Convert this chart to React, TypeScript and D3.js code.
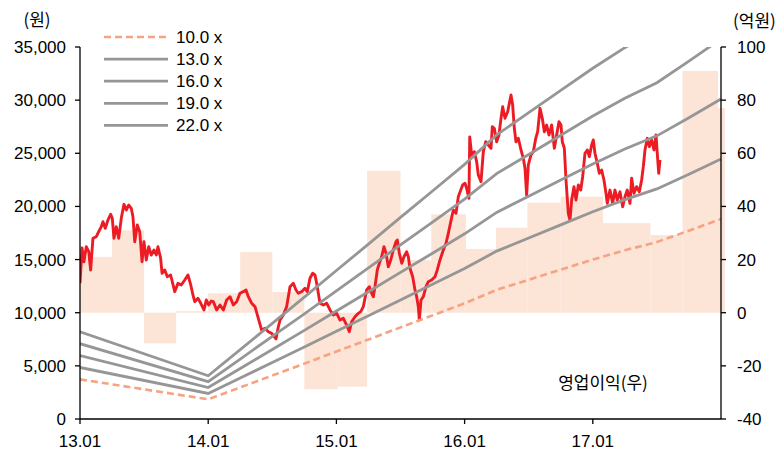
import React from "react";
import * as d3 from "d3";

// ---------- data ----------
const leftTicks = [0, 5000, 10000, 15000, 20000, 25000, 30000, 35000];
const rightTicks = [-40, -20, 0, 20, 40, 60, 80, 100];
const xTickYears = [2013, 2014, 2015, 2016, 2017];
const xTickLabels = ["13.01", "14.01", "15.01", "16.01", "17.01"];

// operating profit bars (억원): period start (decimal year) and value
const barStarts = [2013.0, 2013.25, 2013.5, 2013.75, 2014.0, 2014.25, 2014.5, 2014.75, 2015.01, 2015.24, 2015.5, 2015.74, 2016.01, 2016.245, 2016.49, 2016.75, 2017.08, 2017.45, 2017.7, 2017.977];
const barEnd = 2018.03;
const barValues = [21, 31, -11.5, 0.6, 7.3, 22.8, 7.8, -28.8, -27.8, 53.4, 19.8, 37, 24, 32, 41.4, 43.7, 33.7, 29.2, 91, 77];

// EPS used for PER band
const epsYears = [2013.0, 2014.0, 2014.25, 2014.5, 2014.75, 2015.0, 2015.25, 2015.5, 2015.75, 2016.0, 2016.25, 2016.5, 2016.75, 2017.0, 2017.25, 2017.5, 2017.75, 2018.0];
const epsValues = [373, 185, 297, 409, 521, 635, 748, 862, 975, 1089, 1215, 1310, 1405, 1500, 1588, 1665, 1772, 1882];
const multiples = [10, 13, 16, 19, 22];

// share price (원): [decimal year, price]
const price: [number, number][] = [
  [2013.000, 12770], [2013.016, 16090], [2013.031, 14800], [2013.049, 16210], [2013.068, 15740], [2013.083, 14020],
  [2013.101, 17000], [2013.127, 17150], [2013.146, 17620], [2013.166, 18090], [2013.179, 18560], [2013.197, 17940],
  [2013.218, 18720], [2013.239, 19260], [2013.252, 18880], [2013.265, 17000], [2013.283, 18090], [2013.302, 17000],
  [2013.322, 18880], [2013.343, 20200], [2013.361, 19660], [2013.380, 20130], [2013.400, 19820], [2013.413, 19030],
  [2013.427, 16680], [2013.447, 18250], [2013.466, 17620], [2013.484, 14800], [2013.499, 16680], [2013.517, 14960],
  [2013.536, 16210], [2013.556, 15430], [2013.577, 15900], [2013.595, 15430], [2013.608, 16210], [2013.629, 15120],
  [2013.640, 13710], [2013.661, 14020], [2013.681, 13390], [2013.707, 13550], [2013.739, 11980], [2013.764, 12770],
  [2013.790, 12610], [2013.817, 13080], [2013.842, 13550], [2013.864, 12610], [2013.881, 11670], [2013.895, 11040],
  [2013.920, 11360], [2013.942, 10890], [2013.967, 10260], [2013.985, 11200], [2014.004, 10730], [2014.024, 11100],
  [2014.040, 11040], [2014.066, 10260], [2014.092, 10730], [2014.118, 10260], [2014.144, 11200], [2014.170, 11510],
  [2014.196, 10730], [2014.222, 11040], [2014.248, 11830], [2014.274, 11980], [2014.295, 12140], [2014.313, 11510],
  [2014.339, 10890], [2014.365, 10570], [2014.391, 9470], [2014.417, 8370], [2014.443, 8530], [2014.469, 8210],
  [2014.495, 8060], [2014.529, 7530], [2014.547, 8680], [2014.560, 9310], [2014.586, 9780], [2014.612, 10570],
  [2014.638, 12450], [2014.664, 12770], [2014.685, 12140], [2014.703, 11830], [2014.729, 11980], [2014.755, 12300],
  [2014.773, 11980], [2014.794, 13240], [2014.815, 13710], [2014.833, 13550], [2014.846, 12770], [2014.872, 10890],
  [2014.898, 10730], [2014.924, 10890], [2014.950, 10260], [2014.976, 9780], [2015.002, 9940], [2015.028, 9310],
  [2015.054, 9470], [2015.080, 8840], [2015.101, 8210], [2015.119, 9150], [2015.145, 9620], [2015.171, 9940],
  [2015.190, 10100], [2015.210, 10570], [2015.236, 12140], [2015.257, 12450], [2015.275, 11830], [2015.288, 11510],
  [2015.301, 12450], [2015.319, 14020], [2015.335, 14650], [2015.353, 15270], [2015.371, 16210], [2015.387, 15590],
  [2015.405, 14330], [2015.424, 14960], [2015.444, 15900], [2015.465, 16680], [2015.475, 16840], [2015.491, 15590],
  [2015.510, 14650], [2015.527, 15270], [2015.548, 15740], [2015.561, 15270], [2015.574, 14180], [2015.595, 13390],
  [2015.613, 12140], [2015.626, 11510], [2015.639, 10570], [2015.647, 9310], [2015.660, 11200], [2015.678, 11510],
  [2015.699, 12450], [2015.717, 12920], [2015.743, 13080], [2015.769, 13390], [2015.787, 14020], [2015.808, 14960],
  [2015.834, 15900], [2015.855, 16530], [2015.873, 17470], [2015.892, 18560], [2015.912, 19660], [2015.933, 19350],
  [2015.951, 20910], [2015.970, 21540], [2015.985, 22020], [2016.003, 22180], [2016.016, 21700], [2016.034, 20760],
  [2016.040, 26530], [2016.055, 24840], [2016.076, 25150], [2016.094, 24210], [2016.107, 22960], [2016.128, 22330],
  [2016.146, 25150], [2016.165, 26090], [2016.185, 25780], [2016.206, 25470], [2016.216, 27500], [2016.232, 27350],
  [2016.250, 26090], [2016.268, 26720], [2016.284, 28290], [2016.297, 29380], [2016.315, 28290], [2016.336, 28910],
  [2016.349, 29700], [2016.362, 30480], [2016.375, 29540], [2016.388, 27350], [2016.401, 26090], [2016.419, 26410],
  [2016.440, 25310], [2016.458, 24530], [2016.471, 23590], [2016.484, 21070], [2016.497, 23900], [2016.518, 24840],
  [2016.536, 25150], [2016.555, 26410], [2016.570, 27030], [2016.588, 29230], [2016.606, 28290], [2016.622, 27030],
  [2016.640, 27660], [2016.658, 26720], [2016.679, 27660], [2016.700, 25470], [2016.718, 26720], [2016.736, 27970],
  [2016.752, 27660], [2016.762, 26090], [2016.778, 25470], [2016.791, 22490], [2016.809, 19350], [2016.822, 18720],
  [2016.835, 20600], [2016.853, 21860], [2016.869, 20600], [2016.887, 22020], [2016.906, 21540], [2016.921, 22800],
  [2016.939, 25000], [2016.957, 25310], [2016.973, 24680], [2016.991, 25780], [2017.004, 26250], [2017.017, 25000],
  [2017.035, 24060], [2017.051, 23120], [2017.069, 23430], [2017.087, 22490], [2017.103, 21230], [2017.113, 20290],
  [2017.134, 21540], [2017.155, 20290], [2017.173, 21540], [2017.191, 20600], [2017.212, 21380], [2017.233, 19970],
  [2017.251, 20910], [2017.269, 21540], [2017.290, 20290], [2017.303, 22650], [2017.321, 21230], [2017.342, 21860],
  [2017.363, 21380], [2017.381, 22490], [2017.394, 23740], [2017.407, 25310], [2017.425, 26410], [2017.441, 25620],
  [2017.459, 26250], [2017.477, 25310], [2017.493, 26720], [2017.503, 25000], [2017.514, 23120], [2017.524, 24370],
];

// ---------- styles ----------
const FONT_KR = "'Noto Sans CJK KR', 'Noto Sans', sans-serif";
const FONT_NUM = "'Liberation Sans', Arial, sans-serif";
const RED = "#ED1C24";
const GRAY = "#969696";
const SALMON = "#F6A381";
const BAR = "#FCE4D6";

export default function App() {
  const W = 777, H = 453;
  const left = 80, right = 721, top = 47, bottom = 419;
  const x = d3.scaleLinear().domain([2013, 2018]).range([left, right]);
  const yL = d3.scaleLinear().domain([0, 35000]).range([bottom, top]);
  const yR = d3.scaleLinear().domain([-40, 100]).range([bottom, top]);
  const fmt = d3.format(",");

  const eps = epsYears.map((yr, i) => [yr, epsValues[i]] as [number, number]);
  const bandLine = (m: number) =>
    d3.line<[number, number]>().x((d) => x(d[0])).y((d) => yL(d[1] * m))(eps) || "";
  const priceLine = d3.line<[number, number]>().x((d) => x(d[0])).y((d) => yL(d[1]))(price) || "";

  const legendX0 = 104, legendX1 = 168, legendY0 = 37, legendDy = 22.1;

  return (
    <svg width={W} height={H} style={{ position: "absolute", left: 0, top: 0, background: "#fff" }} fontFamily={FONT_NUM}>
      <defs>
        <clipPath id="plot">
          <rect x={left} y={top} width={right - left + 10} height={bottom - top} />
        </clipPath>
      </defs>

      {/* bars */}
      <g>
        {barValues.map((v, i) => {
          const x0 = x(barStarts[i]);
          const x1 = x(i + 1 < barStarts.length ? barStarts[i + 1] : barEnd);
          const y0 = yR(0), y1 = yR(v);
          return <rect key={i} x={x0} width={x1 - x0} y={Math.min(y0, y1)} height={Math.abs(y1 - y0)} fill={BAR} />;
        })}
      </g>

      <g clipPath="url(#plot)">
        <path d={priceLine} fill="none" stroke={RED} strokeWidth={2.9} strokeLinejoin="round" />
        {multiples.map((m, i) => (
          <path key={m} d={bandLine(m)} fill="none"
            stroke={i === 0 ? SALMON : GRAY} strokeWidth={i === 0 ? 2.6 : 2.8}
            strokeDasharray={i === 0 ? "7,4" : undefined} />
        ))}
      </g>

      {/* axes */}
      <g stroke="#000" strokeWidth={1.3}>
        <line x1={left} x2={left} y1={top} y2={bottom} />
        <line x1={right} x2={right} y1={top} y2={bottom} />
        <line x1={left} x2={right} y1={bottom} y2={bottom} />
        {leftTicks.map((t) => <line key={"l" + t} x1={left - 5} x2={left} y1={yL(t)} y2={yL(t)} />)}
        {rightTicks.map((t) => <line key={"r" + t} x1={right} x2={right + 5} y1={yR(t)} y2={yR(t)} />)}
        {xTickYears.map((t) => <line key={"x" + t} x1={x(t)} x2={x(t)} y1={bottom} y2={bottom + 5} />)}
      </g>
      <g fontSize={17} fill="#000">
        {leftTicks.map((t) => (
          <text key={"lt" + t} x={66} y={yL(t)} dy="0.35em" textAnchor="end">{fmt(t)}</text>
        ))}
        {rightTicks.map((t) => (
          <text key={"rt" + t} x={737} y={yR(t)} dy="0.35em" textAnchor="start">{String(t)}</text>
        ))}
        {xTickYears.map((t, i) => (
          <text key={"xt" + t} x={x(t)} y={441} dy="0.35em" textAnchor="middle">{xTickLabels[i]}</text>
        ))}
        <text x={37} y={20} dy="0.35em" textAnchor="middle" fontFamily={FONT_KR}>(원)</text>
        <text x={733} y={21} dy="0.35em" textAnchor="start" fontFamily={FONT_KR}>(억원)</text>
        <text x={603} y={383} dy="0.35em" textAnchor="middle" fontFamily={FONT_KR}>영업이익(우)</text>
      </g>

      {/* legend */}
      <g fontSize={17}>
        {multiples.map((m, i) => {
          const yy = legendY0 + i * legendDy;
          return (
            <g key={"lg" + m}>
              <line x1={legendX0} x2={legendX1} y1={yy} y2={yy}
                stroke={i === 0 ? SALMON : GRAY} strokeWidth={i === 0 ? 2.6 : 2.8}
                strokeDasharray={i === 0 ? "7,4" : undefined} />
              <text x={176} y={yy} dy="0.35em">{m.toFixed(1) + " x"}</text>
            </g>
          );
        })}
      </g>
    </svg>
  );
}
